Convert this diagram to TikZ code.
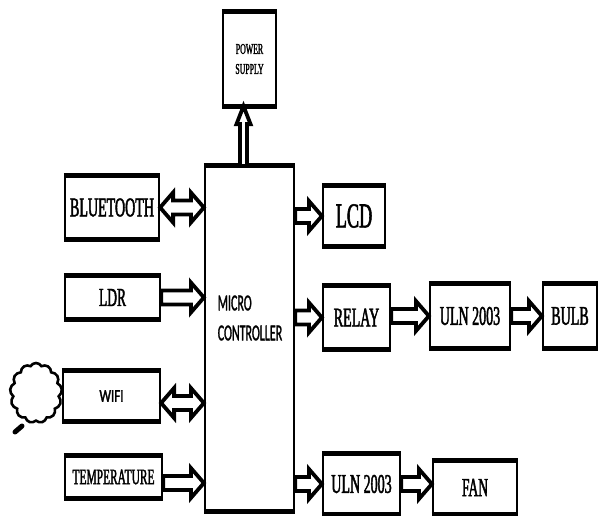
\documentclass[tikz,border=0pt]{standalone}
\usepackage{fontspec}
\newfontfamily\condserif[FakeStretch=0.52,FakeBold=1.6]{Liberation Serif}
\newfontfamily\condsans[FakeStretch=0.52,FakeBold=1.2]{Carlito}
\newfontfamily\wifisans[FakeStretch=0.72,FakeBold=1.8]{Carlito}
\usetikzlibrary{calc,shapes.symbols}
\def\shaftw{7pt}
\def\headw{15pt}
\def\headlen{13pt}
\newcommand{\onearrow}[2]{%
	\coordinate (arS) at #1; \coordinate (arT) at #2;
	\coordinate (arH) at ($(arT)!\headlen!(arS)$);
	\filldraw[arrowline] ($(arS)!\shaftw!90:(arT)$) -- ($(arH)!\shaftw!90:(arT)$)
	-- ($(arH)!\headw!90:(arT)$) -- (arT) -- ($(arH)!\headw!-90:(arT)$)
	-- ($(arH)!\shaftw!-90:(arT)$) -- ($(arS)!\shaftw!-90:(arT)$) -- cycle;}
\newcommand{\twoarrow}[2]{%
	\coordinate (arS) at #1; \coordinate (arT) at #2;
	\coordinate (arA) at ($(arS)!\headlen!(arT)$);
	\coordinate (arB) at ($(arT)!\headlen!(arS)$);
	\filldraw[arrowline] (arS) -- ($(arA)!\headw!90:(arT)$) -- ($(arA)!\shaftw!90:(arT)$)
	-- ($(arB)!\shaftw!90:(arT)$) -- ($(arB)!\headw!90:(arT)$) -- (arT)
	-- ($(arB)!\headw!-90:(arT)$) -- ($(arB)!\shaftw!-90:(arT)$)
	-- ($(arA)!\shaftw!-90:(arT)$) -- ($(arA)!\headw!-90:(arT)$) -- cycle;}
\tikzset{
	blk/.style={draw, line width=2.2pt, inner sep=0pt, font=\condserif\fontsize{#1}{#1}\selectfont},
	blk/.default=27,
	arrowline/.style={draw, fill=white, line width=3.8pt, line join=miter},
}
\begin{document}
\begin{tikzpicture}[x=1pt, y=-1pt]
			\useasboundingbox (0,0) rectangle (599,516);
			% boxes
			\node[blk=15, minimum width=53, minimum height=92, align=center,
				font=\condserif\fontsize{15}{20}\selectfont] (ps) at (249.5,59) {POWER\\SUPPLY};
			\node[blk, minimum width=89, minimum height=343] (mc) at (249.5,338.5) {};
			\node[font=\condsans\fontsize{23}{30}\selectfont, align=left] (mctext) at (250,318) {MICRO\\CONTROLLER};
			\node[blk, minimum width=94, minimum height=61] (bt) at (112,207.5) {BLUETOOTH};
			\node[blk=26, minimum width=95, minimum height=41] (ldr) at (112.5,297.5) {LDR};
			\node[blk, minimum width=97, minimum height=48, font=\wifisans\fontsize{18}{18}\selectfont] (wifi) at (111.5,396) {WIFI};
			\node[blk=22, minimum width=97, minimum height=40] (temp) at (113.5,477) {TEMPERATURE};
			\node[blk=35, minimum width=62, minimum height=58] (lcd) at (354,216) {LCD};
			\node[blk, minimum width=67, minimum height=61] (relay) at (356.5,317.5) {RELAY};
			\node[blk, minimum width=80, minimum height=62] (uln1) at (470,316) {ULN 2003};
			\node[blk, minimum width=54, minimum height=62] (bulb) at (570,316) {BULB};
			\node[blk, minimum width=77, minimum height=58] (uln2) at (361.5,484) {ULN 2003};
			\node[blk=26, minimum width=84, minimum height=51] (fan) at (475,487.5) {FAN};
			\foreach \n in {ps,mc,bt,ldr,wifi,temp,lcd,relay,uln1,bulb,uln2,fan}
			\draw[line width=5pt] (\n.north west)--(\n.north east) (\n.south west)--(\n.south east);
			% cloud
			\node[cloud, draw, line width=2.6pt, cloud puffs=13, cloud puff arc=120, cloud ignores aspect,
				minimum width=52, minimum height=60] (cloud) at (36,393) {};
			\draw[line width=5pt, line cap=round] (15,432) -- (22,426);
			% arrows
			\twoarrow{(bt.east)}{(bt.east -| mc.west)}
			\onearrow{(ldr.east)}{(ldr.east -| mc.west)}
			\twoarrow{([yshift=-7pt]wifi.east)}{([yshift=-7pt]wifi.east -| mc.west)}
			\onearrow{([yshift=-6pt]temp.east)}{([yshift=-6pt]temp.east -| mc.west)}
			\onearrow{(lcd.west -| mc.east)}{(lcd.west)}
			\onearrow{(relay.west -| mc.east)}{(relay.west)}
			\onearrow{(uln1.west -| relay.east)}{(uln1.west)}
			\onearrow{(uln1.east)}{(bulb.west)}
			\onearrow{(uln2.west -| mc.east)}{(uln2.west)}
			\onearrow{(uln2.east)}{(uln2.east -| fan.west)}
			{\def\shaftw{3.5pt}\def\headw{7pt}\def\headlen{18pt}
			\onearrow{([xshift=-6pt]ps.south |- mc.north)}{([xshift=-6pt]ps.south)}}
		\end{tikzpicture}
\end{document}
